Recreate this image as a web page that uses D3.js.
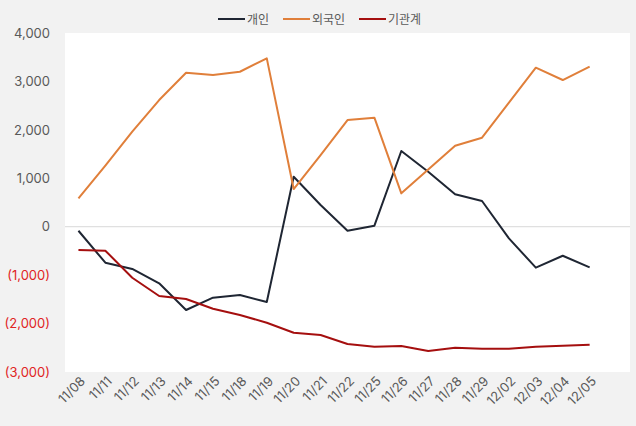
<!DOCTYPE html>
<html><head><meta charset="utf-8">
<script src="https://cdn.jsdelivr.net/npm/d3@7"></script>
<style>
body{margin:0;background:#f2f2f2;}
svg{display:block;font-family:Inter,"Noto Sans CJK KR",sans-serif;}
</style></head>
<body><svg id="c" width="636" height="426"></svg>
<script>
const dates = ["11/08","11/11","11/12","11/13","11/14","11/15","11/18","11/19","11/20","11/21","11/22","11/25","11/26","11/27","11/28","11/29","12/02","12/03","12/04","12/05"];
const individual = [-83,-743,-873,-1169,-1720,-1466,-1410,-1555,1032,448,-83,21,1563,1136,669,531,-240,-846,-599,-838];
const foreign = [586,1260,1962,2616,3180,3132,3200,3477,778,1480,2203,2251,689,1180,1673,1838,2561,3284,3029,3304];
const institution = [-481,-495,-1053,-1431,-1493,-1693,-1824,-1982,-2189,-2236,-2422,-2478,-2463,-2567,-2498,-2519,-2519,-2478,-2457,-2436];
const yTicks = [4000,3000,2000,1000,0,-1000,-2000,-3000];
const seriesNames = ["개인","외국인","기관계"];
const seriesColors = ["#1f2633","#e07f3a","#a50f0f"];

const svg = d3.select("#c");
const W=636,H=426;
svg.append("rect").attr("width",W).attr("height",H).attr("fill","#f2f2f2");
const plot = {l:65,r:630,t:33,b:372};
svg.append("rect").attr("x",plot.l).attr("y",plot.t).attr("width",plot.r-plot.l).attr("height",plot.b-plot.t).attr("fill","#fff");

// 21 slots as in source (last empty)
const step=(plot.r-plot.l)/21;
const x = d3.scalePoint().domain(dates).range([plot.l+step/2, plot.l+step/2+step*(dates.length-1)]);
const y = d3.scaleLinear().domain([-3000,4000]).range([plot.b,plot.t]);

svg.append("line").attr("x1",plot.l).attr("x2",plot.r).attr("y1",y(0)).attr("y2",y(0)).attr("stroke","#d9d9d9").attr("stroke-width",1);

const fmt = v => v<0 ? "("+d3.format(",")(-v)+")" : d3.format(",")(v);
const yAxis = d3.axisLeft(y).tickValues(yTicks).tickFormat(fmt).tickSize(0).tickPadding(0);
const gy = svg.append("g").attr("transform","translate(50,0)").call(yAxis);
gy.select(".domain").remove();
gy.selectAll("text").attr("font-size",13).attr("font-family","Inter,'Noto Sans CJK KR',sans-serif")
  .attr("fill",d=>d<0?"#e02424":"#595959");

const xAxis = d3.axisBottom(x).tickSize(0).tickPadding(0);
const gx = svg.append("g").attr("transform",`translate(0,${plot.b})`).call(xAxis);
gx.select(".domain").remove();
gx.selectAll("text").attr("font-size",13).attr("font-family","Inter,'Noto Sans CJK KR',sans-serif").attr("fill","#595959")
  .attr("text-anchor","end").attr("dy",0).attr("y",0)
  .attr("transform","translate(7,10) rotate(-45)");

const line = d3.line().x((d,i)=>x(dates[i])).y(d=>y(d));
[individual,foreign,institution].forEach((s,k)=>{
  svg.append("path").datum(s).attr("d",line).attr("fill","none")
    .attr("stroke",seriesColors[k]).attr("stroke-width",2).attr("stroke-linejoin","round");
});

// legend
const legX=[218,283,359];
seriesNames.forEach((n,k)=>{
  svg.append("line").attr("x1",legX[k]).attr("x2",legX[k]+27).attr("y1",19).attr("y2",19)
    .attr("stroke",seriesColors[k]).attr("stroke-width",2);
  svg.append("text").attr("x",legX[k]+29).attr("y",23.5).attr("font-size",12)
    .attr("fill","#595959").text(n);
});
</script></body></html>
